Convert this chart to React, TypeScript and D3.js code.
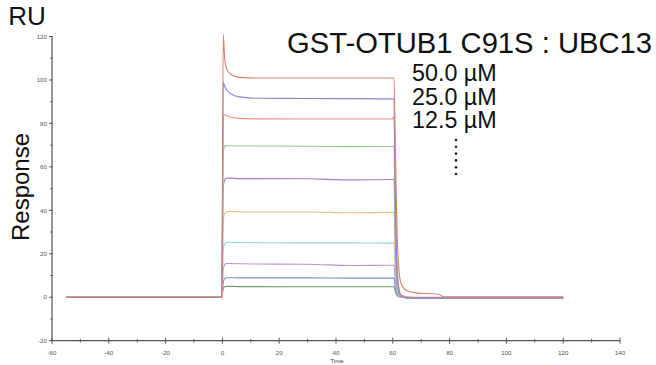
import React from "react";
import * as d3 from "d3";

// Shared sample times (s)
const times = [-55, -0.2, 0.3, 0.8, 1.5, 3, 6, 12, 30, 45, 59.8, 60.4, 60.9, 61.5, 62.2, 63, 65, 68, 72, 76, 78, 120];

// Response (RU) per concentration
const c50 = [0, 0, 121, 110, 105, 102.5, 101.2, 100.9, 100.9, 100.9, 100.9, 100.9, 70, 30, 12, 6, 3, 2, 1.7, 1.5, 0.2, 0.2];
const c25 = [0, 0, 99, 97, 95.5, 93.5, 92.2, 91.6, 91.5, 91.4, 91.3, 91.3, 45, 12, 3, 0.5, -0.2, -0.3, -0.3, -0.3, -0.3, -0.3];
const c12 = [0, 0, 83, 84, 83.5, 82.8, 82.3, 82.1, 82, 82, 82, 83, 50, 15, 4, 1, 0.2, 0, 0, 0, 0, 0];
const c6 = [0, 0, 66, 69.5, 69.8, 69.7, 69.6, 69.6, 69.5, 69.3, 69.4, 69.4, 30, 8, 2, 0.3, -0.2, -0.3, -0.3, -0.3, -0.3, -0.3];
const c3 = [0, 0, 50, 54, 54.8, 54.8, 54.6, 54.6, 54.5, 54.0, 54.2, 54.2, 25, 6, 1.5, 0.2, -0.3, -0.4, -0.4, -0.4, -0.4, -0.4];
const c1 = [0, 0, 35, 38.5, 39.4, 39.5, 39.3, 39.2, 39.2, 38.9, 39.0, 39, 18, 5, 1, 0, -0.3, -0.3, -0.3, -0.3, -0.3, -0.3];
const c08 = [0, 0, 22, 24.7, 25.2, 25.3, 25.2, 25.1, 25, 25, 24.9, 25, 12, 3, 0.5, 0, -0.2, -0.2, -0.2, -0.2, -0.2, -0.2];
const c04 = [0, 0, 13, 15, 15.5, 15.5, 15.4, 15.3, 15.2, 14.6, 14.7, 14.7, 7, 2, 0.3, 0, -0.2, -0.2, -0.2, -0.2, -0.2, -0.2];
const c02 = [0, 0, 7, 8.6, 9, 9, 8.9, 8.9, 8.9, 8.8, 8.8, 8.8, 4.5, 1.5, 0.3, 0, -0.2, -0.2, -0.2, -0.2, -0.2, -0.2];
const c01 = [0, 0, 4, 4.8, 5, 5, 4.9, 4.9, 4.8, 4.8, 4.8, 4.8, 2.5, 0.8, 0.2, 0, -0.1, -0.1, -0.1, -0.1, -0.1, -0.1];

const seriesValues = [c01, c02, c04, c08, c1, c3, c6, c12, c25, c50];
const seriesColors = ["#6a9e6a", "#7b8ad2", "#bf93d0", "#8fd6d4", "#ecc083", "#a77cc2", "#95cf8c", "#f28d82", "#8a82d2", "#d6836b"];

const xTicks = [-60, -40, -20, 0, 20, 40, 60, 80, 100, 120, 140];
const yTicks = [-20, 0, 20, 40, 60, 80, 100, 120];
const concLabels = ["50.0 µM", "25.0 µM", "12.5 µM"];
const title = "GST-OTUB1 C91S : UBC13";

export default function App() {
  const W = 656, H = 365;
  const x = d3.scaleLinear().domain([-60, 140]).range([52, 620]);
  const y = d3.scaleLinear().domain([-20, 120]).range([340.7, 36.5]);
  const line = d3
    .line<[number, number]>()
    .x((d) => x(d[0]))
    .y((d) => y(d[1]))
    .curve(d3.curveMonotoneX);

  const xMinor = d3.range(-50, 140, 20);
  const yMinor = d3.range(-10, 120, 20);
  const axisColor = "#555";
  const font = "Liberation Sans, Arial, sans-serif";

  return (
    <svg width={W} height={H} style={{ position: "absolute", left: 0, top: 0, background: "#fff" }} fontFamily={font}>
      {/* curves */}
      {seriesValues.map((vals, i) => (
        <path
          key={i}
          d={line(times.map((t, j) => [t, vals[j]] as [number, number])) || ""}
          fill="none"
          stroke={seriesColors[i]}
          strokeWidth={1.1}
        />
      ))}
      {/* y axis */}
      <line x1={x(-60)} x2={x(-60)} y1={y(120)} y2={y(-20)} stroke={axisColor} strokeWidth={1.2} />
      {yTicks.map((t) => (
        <g key={"yt" + t}>
          <line x1={x(-60) - 3} x2={x(-60) + 1} y1={y(t)} y2={y(t)} stroke={axisColor} strokeWidth={1} />
          <text x={x(-60) - 5} y={y(t) + 2.2} fontSize={6.2} fill="#555" textAnchor="end">{t}</text>
        </g>
      ))}
      {yMinor.map((t) => (
        <line key={"ym" + t} x1={x(-60) - 2} x2={x(-60) + 1} y1={y(t)} y2={y(t)} stroke={axisColor} strokeWidth={0.8} />
      ))}
      {/* x axis */}
      <line x1={x(-60)} x2={x(140)} y1={y(-20)} y2={y(-20)} stroke={axisColor} strokeWidth={1.2} />
      {xTicks.map((t) => (
        <g key={"xt" + t}>
          <line x1={x(t)} x2={x(t)} y1={y(-20) - 3} y2={y(-20) + 3} stroke={axisColor} strokeWidth={1} />
          <text x={x(t)} y={y(-20) + 14} fontSize={6.2} fill="#555" textAnchor="middle">{t}</text>
        </g>
      ))}
      {xMinor.map((t) => (
        <line key={"xm" + t} x1={x(t)} x2={x(t)} y1={y(-20) - 2} y2={y(-20) + 2} stroke={axisColor} strokeWidth={0.8} />
      ))}
      <text x={337} y={362.5} fontSize={6.2} fill="#444" textAnchor="middle">Time</text>
      {/* labels */}
      <text x={27} y={25} fontSize={26} fill="#111" textAnchor="middle">RU</text>
      <text transform="translate(29,187) rotate(-90)" fontSize={24} fill="#111" textAnchor="middle">Response</text>
      <text x={652} y={53} fontSize={29.2} fill="#111" textAnchor="end">{title}</text>
      {concLabels.map((s, i) => (
        <text key={s} x={412} y={81 + i * 23.5} fontSize={23.3} fill="#111">{s}</text>
      ))}
      {d3.range(6).map((i) => (
        <circle key={"dot" + i} cx={456} cy={140 + i * 6.8} r={1.3} fill="#222" />
      ))}
    </svg>
  );
}
